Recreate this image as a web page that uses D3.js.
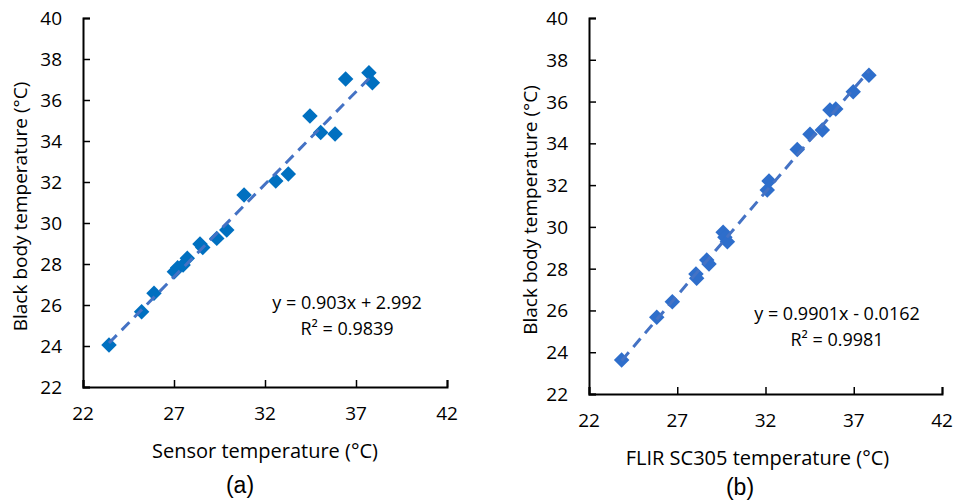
<!DOCTYPE html>
<meta charset="utf-8">
<html>
  <head>
    <title>Calibration</title>
    <script src="https://d3js.org/d3.v7.min.js"></script>
    <style>
      body { margin: 0; background: white; }
      text { font-family: "Open Sans", sans-serif; fill: #000; }
    </style>
  </head>
  <body>
    <div id="chart"></div>
    <script type="text/javascript">

        // Panel (a): sensor vs black body
        var sensor_x = [23.43, 25.22, 25.9, 27.02, 27.2, 27.5, 27.73, 28.43, 28.58, 29.35, 29.9, 30.85, 32.59, 33.28, 34.47, 35.06, 35.85, 36.43, 37.71, 37.9];
        var sensor_y = [24.05, 25.67, 26.57, 27.62, 27.82, 27.95, 28.28, 28.98, 28.81, 29.25, 29.66, 31.37, 32.05, 32.39, 35.22, 34.41, 34.34, 37.02, 37.33, 36.84];

        // Panel (b): FLIR SC305 vs black body
        var flir_x = [23.85, 25.84, 26.72, 28.06, 28.1, 28.67, 28.8, 29.6, 29.7, 29.84, 32.2, 32.1, 33.8, 34.52, 35.22, 35.65, 35.98, 36.97, 37.86];
        var flir_y = [23.63, 25.67, 26.42, 27.74, 27.54, 28.41, 28.22, 29.74, 29.5, 29.29, 32.2, 31.77, 33.71, 34.43, 34.64, 35.6, 35.64, 36.47, 37.26];

        var x_ticks = [22, 27, 32, 37, 42];
        var y_ticks = [22, 24, 26, 28, 30, 32, 34, 36, 38, 40];

        var fit_a = {slope: 0.903, intercept: 2.992, eq: "y = 0.903x + 2.992", r2: "R\u00B2 = 0.9839"};
        var fit_b = {slope: 0.9901, intercept: -0.0162, eq: "y = 0.9901x - 0.0162", r2: "R\u00B2 = 0.9981"};

        var total_width = 955, total_height = 502;

        var svg = d3.select("#chart").append("svg")
            .attr("width", total_width)
            .attr("height", total_height);

        function draw_panel(o) {
            var g = svg.append("g");

            var x_scale = d3.scaleLinear().domain([22, 42]).range([o.left, o.right]);
            var y_scale = d3.scaleLinear().domain([22, 40]).range([o.bottom, o.top]);

            var points = o.xs.map(function(d, i){ return {x: d, y: o.ys[i]}; });

            //Axes, ticks point inward
            var x_axis = d3.axisTop(x_scale).tickValues(x_ticks).tickSize(7).tickFormat("");
            var y_axis = d3.axisRight(y_scale).tickValues(y_ticks).tickSize(7).tickFormat("");

            g.append("g").attr("transform", "translate(0," + o.bottom + ")").call(x_axis);
            g.append("g").attr("transform", "translate(" + o.left + ",0)").call(y_axis);
            g.selectAll(".domain").attr("stroke", "#000").attr("stroke-width", 2);
            g.selectAll(".tick line").attr("stroke", "#000").attr("stroke-width", 1.5);

            //Tick labels
            g.append("g").selectAll("text")
                .data(x_ticks)
                .enter().append("text")
                .attr("x", function(d){ return x_scale(d); })
                .attr("y", o.bottom + 26)
                .attr("text-anchor", "middle")
                .attr("dominant-baseline", "central")
                .style("font-size", "19px")
                .text(function(d){ return d; });

            g.append("g").selectAll("text")
                .data(y_ticks)
                .enter().append("text")
                .attr("x", o.left - 21)
                .attr("y", function(d){ return y_scale(d); })
                .attr("text-anchor", "end")
                .attr("dominant-baseline", "central")
                .style("font-size", "19px")
                .text(function(d){ return d; });

            //Markers
            var diamond = d3.symbol().type(d3.symbolSquare).size(120);
            g.append("g").selectAll("path")
                .data(points)
                .enter().append("path")
                .attr("d", diamond)
                .attr("transform", function(d){
                    return "translate(" + x_scale(d.x) + "," + y_scale(d.y) + ") rotate(45)"; })
                .attr("fill", o.marker);

            //Trend line
            var x_ext = d3.extent(o.xs);
            var line = d3.line()
                .x(function(d){ return x_scale(d); })
                .y(function(d){ return y_scale(o.fit.slope * d + o.fit.intercept); });
            g.append("path")
                .attr("d", line(x_ext))
                .attr("stroke", "#4472C4")
                .attr("stroke-width", 3)
                .attr("stroke-dasharray", "11,7")
                .attr("fill", "none");

            //Equation
            g.append("text")
                .attr("x", o.eq_x).attr("y", o.eq_y)
                .attr("text-anchor", "middle")
                .attr("dominant-baseline", "central")
                .style("font-size", "18px")
                .text(o.fit.eq);
            g.append("text")
                .attr("x", o.eq_x).attr("y", o.eq_y + 26)
                .attr("text-anchor", "middle")
                .attr("dominant-baseline", "central")
                .style("font-size", "18px")
                .text(o.fit.r2);

            //Axis titles
            g.append("text")
                .attr("x", (o.left + o.right) / 2 + o.title_dx)
                .attr("y", o.bottom + 63)
                .attr("text-anchor", "middle")
                .attr("dominant-baseline", "central")
                .style("font-size", "20px")
                .text(o.x_title);
            g.append("text")
                .attr("transform", "translate(" + o.ytitle_x + "," + ((o.top + o.bottom) / 2 + 4) + ") rotate(-90)")
                .attr("text-anchor", "middle")
                .attr("dominant-baseline", "central")
                .style("font-size", "19px")
                .text("Black body temperature (\u00B0C)");

            //Panel letter
            g.append("text")
                .attr("x", o.letter_x)
                .attr("y", o.letter_y)
                .attr("text-anchor", "middle")
                .attr("dominant-baseline", "central")
                .style("font-family", "'Liberation Sans', Arial, sans-serif")
                .style("font-size", "23px")
                .text(o.letter);
        }

        draw_panel({xs: sensor_x, ys: sensor_y, fit: fit_a, left: 83, right: 447, top: 18, bottom: 387,
                    marker: "#0070C0", eq_x: 347, eq_y: 302, x_title: "Sensor temperature (\u00B0C)", title_dx: 0,
                    ytitle_x: 20, letter: "(a)", letter_x: 240, letter_y: 485});

        draw_panel({xs: flir_x, ys: flir_y, fit: fit_b, left: 589, right: 942, top: 18, bottom: 394,
                    marker: "#2E6ECB", eq_x: 837, eq_y: 313, x_title: "FLIR SC305 temperature (\u00B0C)", title_dx: -8,
                    ytitle_x: 530, letter: "(b)", letter_x: 740, letter_y: 487});

    </script>
  </body>
</html>
